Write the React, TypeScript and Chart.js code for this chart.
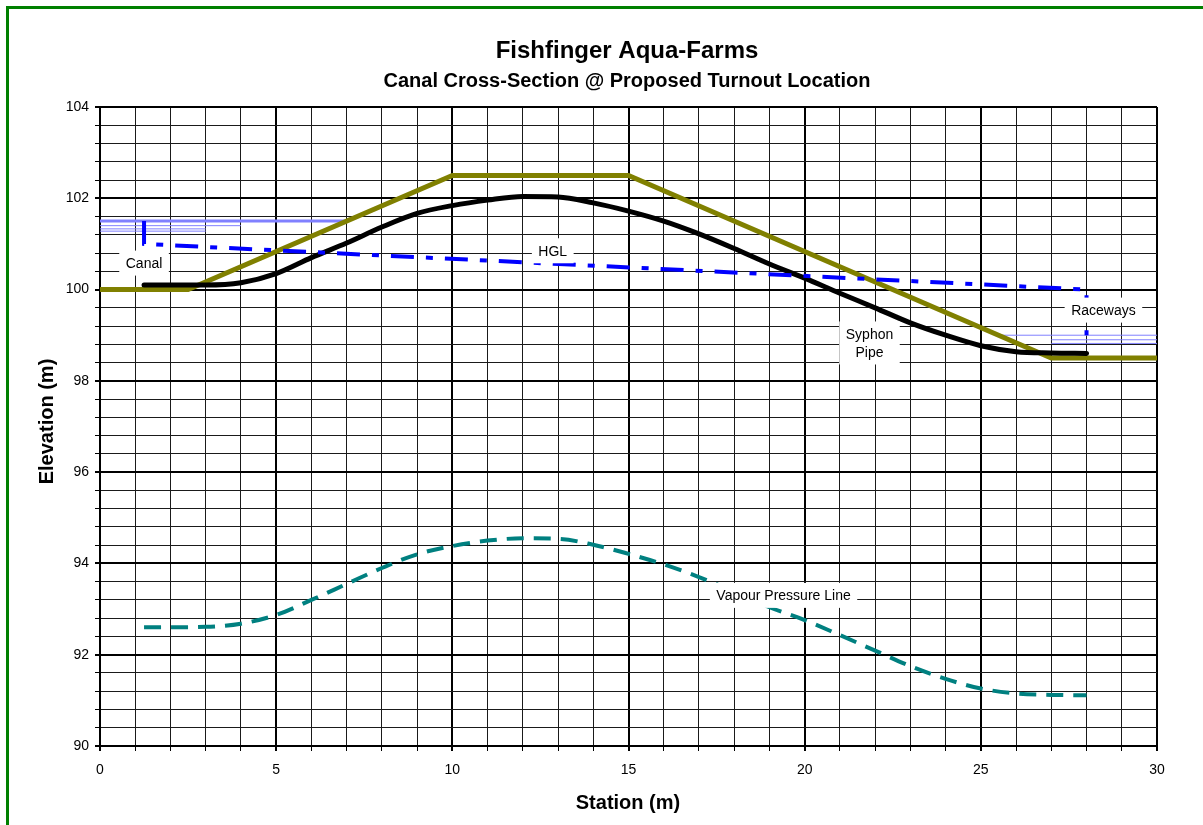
import React, { useEffect, useRef } from "react";
import { Chart, registerables } from "chart.js";

Chart.register(...registerables);

const FONT = '"Liberation Sans", Arial, Helvetica, sans-serif';

// Syphon pipe centreline and vapour pressure line (station, elevation)
const stations = [1.25, 2, 3, 4, 5, 6, 7, 8, 9, 10, 11, 12, 13, 14, 15, 16, 17, 18, 19, 20, 21, 22, 23, 24, 25, 26, 27, 28];
const pipeElev = [100.1, 100.1, 100.1, 100.15, 100.35, 100.7, 101.02, 101.37, 101.67, 101.84, 101.96, 102.04, 102.03, 101.9, 101.72, 101.5, 101.22, 100.9, 100.56, 100.25, 99.92, 99.6, 99.27, 99.0, 98.77, 98.64, 98.61, 98.6];
const vapourElev = [92.6, 92.6, 92.61, 92.68, 92.87, 93.2, 93.55, 93.9, 94.2, 94.38, 94.5, 94.55, 94.54, 94.41, 94.21, 93.98, 93.7, 93.38, 93.04, 92.76, 92.43, 92.09, 91.75, 91.47, 91.26, 91.15, 91.12, 91.11];

// Ground profile
const groundStations = [0, 2.5, 10, 15, 27, 30];
const groundElev = [100, 100, 102.5, 102.5, 98.5, 98.5];

// Hydraulic grade line
const hglStations = [1.25, 1.25, 28, 28];
const hglElev = [101.5, 101.0, 100.0, 99.0];

// Water surface symbols
const canalWaterLevels = [101.5, 101.4, 101.33, 101.28];
const canalWaterEnds = [7, 4, 3, 3];
const racewayWaterLevels = [99.0, 98.9, 98.82];
const racewayWaterStarts = [25.5, 27, 27];

// Annotations
const labelTexts = ["Canal", "HGL", "Syphon\nPipe", "Raceways", "Vapour Pressure Line"];
const labelStations = [1.25, 12.85, 21.84, 28.48, 19.4];
const labelElevs = [100.58, 100.85, 98.83, 99.55, 93.3];

const xTickMajor = (v: number) => Math.abs(v / 5 - Math.round(v / 5)) < 1e-6;
const yTickMajor = (v: number) => Math.abs(v / 2 - Math.round(v / 2)) < 1e-6;

const decorPlugin = {
  id: "decor",
  afterDatasetsDraw(chart: any) {
    const { ctx } = chart;
    const x = chart.scales.x;
    const y = chart.scales.y;
    ctx.save();
    ctx.font = `14px ${FONT}`;
    ctx.textAlign = "center";
    ctx.textBaseline = "middle";
    labelTexts.forEach((t, i) => {
      const lines = t.split("\n");
      const cx = x.getPixelForValue(labelStations[i]);
      const cy = y.getPixelForValue(labelElevs[i]);
      const w = Math.max(...lines.map((l) => ctx.measureText(l).width)) + 13;
      const h = (lines.length - 1) * 18 + 25;
      ctx.fillStyle = "#ffffff";
      ctx.fillRect(cx - w / 2, cy - h / 2, w, h);
      ctx.fillStyle = "#000000";
      lines.forEach((l, j) => {
        ctx.fillText(l, cx, cy + (j - (lines.length - 1) / 2) * 18 + 1);
      });
    });
    ctx.restore();
  },
  afterDraw(chart: any) {
    const { ctx, chartArea } = chart;
    const cx = (chartArea.left + chartArea.right) / 2 - 1.5;
    const cy = (chartArea.top + chartArea.bottom) / 2;
    ctx.save();
    ctx.fillStyle = "#000";
    ctx.textAlign = "center";
    ctx.textBaseline = "alphabetic";
    ctx.font = `bold 24px ${FONT}`;
    ctx.fillText("Fishfinger Aqua-Farms", cx, 58);
    ctx.font = `bold 20px ${FONT}`;
    ctx.fillText("Canal Cross-Section @ Proposed Turnout Location", cx, 86.5);
    ctx.fillText("Station (m)", cx + 1, 809);
    ctx.translate(53, cy - 5);
    ctx.rotate(-Math.PI / 2);
    ctx.fillText("Elevation (m)", 0, 0);
    ctx.restore();
  },
};

export default function App() {
  const ref = useRef<HTMLCanvasElement>(null);

  useEffect(() => {
    const pts = (xs: number[], ys: number[]) => xs.map((s, i) => ({ x: s, y: ys[i] }));
    const waterSets: any[] = [];
    canalWaterLevels.forEach((lv, i) => {
      waterSets.push({
        label: "canal water " + i,
        data: [{ x: 0, y: lv }, { x: canalWaterEnds[i], y: lv }],
        borderColor: "#8080ff",
        borderWidth: i === 0 ? 3 : 1,
        pointRadius: 0,
        order: 5,
      });
    });
    racewayWaterLevels.forEach((lv, i) => {
      waterSets.push({
        label: "raceway water " + i,
        data: [{ x: racewayWaterStarts[i], y: lv }, { x: 30, y: lv }],
        borderColor: "#8080ff",
        borderWidth: 1,
        pointRadius: 0,
        order: 5,
      });
    });

    const gridColor = (major: (v: number) => boolean) => (c: any) =>
      c.tick && major(c.tick.value) ? "#000000" : "#1a1a1a";
    const gridWidth = (major: (v: number) => boolean) => (c: any) =>
      c.tick && major(c.tick.value) ? 2 : 1;

    const chart = new Chart(ref.current as HTMLCanvasElement, {
      type: "line",
      data: {
        datasets: [
          {
            label: "HGL",
            data: pts(hglStations, hglElev),
            borderColor: "#0000ff",
            borderWidth: 4,
            borderDash: [23, 12, 7, 12],
            tension: 0,
            pointRadius: 0,
            order: 0,
          },
          {
            label: "Syphon Pipe",
            data: pts(stations, pipeElev),
            borderColor: "#000000",
            borderWidth: 5,
            cubicInterpolationMode: "monotone",
            borderCapStyle: "round",
            borderJoinStyle: "round",
            pointRadius: 0,
            order: 1,
          },
          {
            label: "Vapour Pressure Line",
            data: pts(stations, vapourElev),
            borderColor: "#008080",
            borderWidth: 4,
            borderDash: [17, 10],
            cubicInterpolationMode: "monotone",
            pointRadius: 0,
            order: 2,
          },
          {
            label: "Ground",
            data: pts(groundStations, groundElev),
            borderColor: "#808000",
            borderWidth: 5,
            tension: 0,
            borderJoinStyle: "miter",
            pointRadius: 0,
            order: 3,
          },
          ...waterSets,
        ],
      } as any,
      options: {
        responsive: false,
        animation: false,
        devicePixelRatio: 1,
        layout: { padding: { left: 0, right: 46, top: 107, bottom: 0 } },
        plugins: {
          legend: { display: false },
          title: { display: false },
          tooltip: { enabled: false },
        },
        scales: {
          x: {
            type: "linear",
            min: 0,
            max: 30,
            afterFit: (s: any) => {
              s.height = 79;
            },
            ticks: {
              stepSize: 1,
              autoSkip: false,
              maxRotation: 0,
              padding: 11,
              color: "#000",
              font: { family: FONT, size: 14 },
              callback: (v: any) => (xTickMajor(Number(v)) ? String(Math.round(Number(v))) : ""),
            },
            grid: {
              color: gridColor(xTickMajor),
              lineWidth: gridWidth(xTickMajor),
              tickLength: 5,
              tickColor: "#000",
            },
            border: { color: "#000", width: 2 },
          },
          y: {
            type: "linear",
            min: 90,
            max: 104,
            afterFit: (s: any) => {
              s.width = 100;
            },
            ticks: {
              stepSize: 0.4,
              autoSkip: false,
              padding: 6,
              color: "#000",
              font: { family: FONT, size: 14 },
              callback: (v: any) => (yTickMajor(Number(v)) ? String(Math.round(Number(v))) : ""),
            },
            grid: {
              color: gridColor(yTickMajor),
              lineWidth: gridWidth(yTickMajor),
              tickLength: 5,
              tickColor: "#000",
            },
            border: { color: "#000", width: 2 },
          },
        },
      } as any,
      plugins: [decorPlugin],
    });
    return () => chart.destroy();
  }, []);

  return (
    <div
      style={{
        position: "fixed",
        left: 0,
        top: 0,
        width: 1203,
        height: 825,
        background: "#ffffff",
        overflow: "hidden",
      }}
    >
      <div
        style={{
          position: "absolute",
          left: 6,
          top: 6,
          width: 1300,
          height: 900,
          border: "3px solid #008000",
        }}
      />
      <canvas
        ref={ref}
        width={1203}
        height={825}
        style={{ position: "absolute", left: 0, top: 0, width: 1203, height: 825 }}
      />
    </div>
  );
}
